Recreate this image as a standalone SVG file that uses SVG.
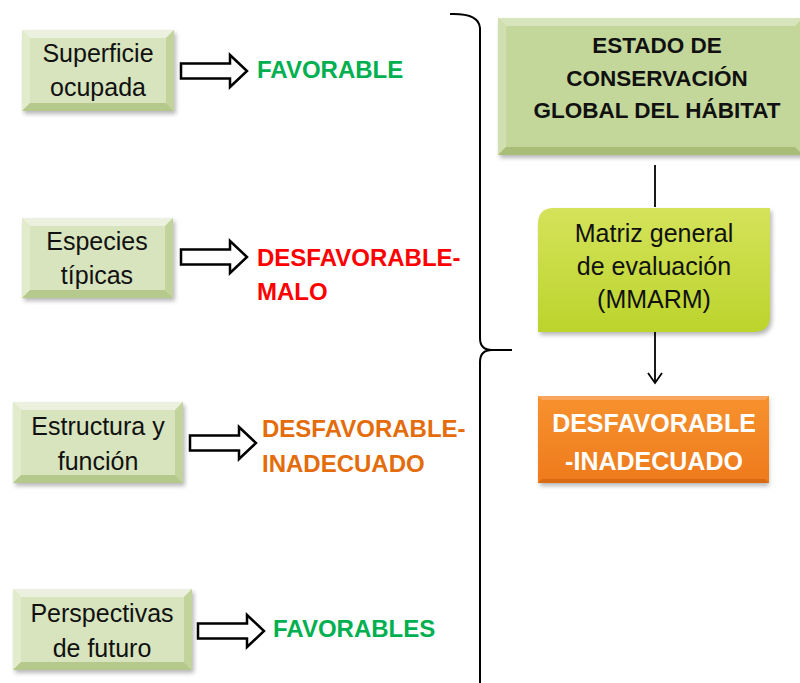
<svg xmlns="http://www.w3.org/2000/svg" width="800" height="683" viewBox="0 0 800 683">
<defs>
<filter id="sh" x="-10%" y="-10%" width="130%" height="140%"><feGaussianBlur stdDeviation="2"/></filter>
<linearGradient id="gMat" x1="0" y1="0" x2="0" y2="1"><stop offset="0" stop-color="#d4e35a"/><stop offset="1" stop-color="#bcd42c"/></linearGradient>
<linearGradient id="gOr" x1="0" y1="0" x2="0" y2="1"><stop offset="0" stop-color="#f7922e"/><stop offset="1" stop-color="#ee7a1c"/></linearGradient>
<path id="blk" d="M0,-7.5 H49 V-16 L66,0 L49,16 V7.5 H0 Z"/>
<marker id="ah" markerWidth="16" markerHeight="16" refX="14" refY="8" orient="auto" markerUnits="userSpaceOnUse" viewBox="0 0 16 16"><path d="M4,1 L14,8 L4,15" fill="none" stroke="#000" stroke-width="1.8"/></marker>
</defs>
<style>
.sh{fill:#7f7f7f;opacity:.55;filter:url(#sh)}
.lg{fill:#d7e4bd}
.lt{fill:#ebf1de}
.ll{fill:#e2ebcb}
.lr{fill:#c2d49c}
.lb{fill:#b6c98c}
.dg{fill:#c4d79b}
.dt{fill:#d8e4bc}
.dl{fill:#d1dfb0}
.dr{fill:#b3c684}
.db{fill:#a9bd79}
.t{font-family:"Liberation Sans",Arial,sans-serif;font-size:25px;fill:#111;text-anchor:middle}
.b{font-family:"Liberation Sans",Arial,sans-serif;font-weight:bold;font-size:24px}
.bw{fill:#fff;text-anchor:middle;font-size:25px}
.bk{fill:#111;text-anchor:middle;font-size:22.5px}
.gr{fill:#00b050}.rd{fill:#ff0000}.or{fill:#e46c0a}
.ba{fill:#fff;stroke:#000;stroke-width:2.5;stroke-linejoin:miter}
.ln{fill:none;stroke:#000;stroke-width:2}
</style>

<g id="n1">
<rect class="sh" x="24" y="33" width="152" height="81"/>
<rect class="lg" x="22" y="30" width="152" height="81"/>
<polygon class="lt" points="22,30 174,30 166,38 30,38"/>
<polygon class="ll" points="22,30 30,38 30,103 22,111"/>
<polygon class="lr" points="174,30 174,111 166,103 166,38"/>
<polygon class="lb" points="22,111 174,111 166,103 30,103"/>
<text class="t" x="98" y="62">Superficie</text>
<text class="t" x="98" y="96">ocupada</text>
</g>
<g id="n2">
<rect class="sh" x="24" y="221" width="151" height="80"/>
<rect class="lg" x="22" y="218" width="151" height="80"/>
<polygon class="lt" points="22,218 173,218 165,226 30,226"/>
<polygon class="ll" points="22,218 30,226 30,290 22,298"/>
<polygon class="lr" points="173,218 173,298 165,290 165,226"/>
<polygon class="lb" points="22,298 173,298 165,290 30,290"/>
<text class="t" x="97" y="250">Especies</text>
<text class="t" x="97" y="284">típicas</text>
</g>
<g id="n3">
<rect class="sh" x="15" y="405" width="170" height="81"/>
<rect class="lg" x="13" y="402" width="170" height="81"/>
<polygon class="lt" points="13,402 183,402 175,410 21,410"/>
<polygon class="ll" points="13,402 21,410 21,475 13,483"/>
<polygon class="lr" points="183,402 183,483 175,475 175,410"/>
<polygon class="lb" points="13,483 183,483 175,475 21,475"/>
<text class="t" x="98" y="435">Estructura y</text>
<text class="t" x="98" y="470">función</text>
</g>
<g id="n4">
<rect class="sh" x="15" y="592" width="179" height="81"/>
<rect class="lg" x="13" y="589" width="179" height="81"/>
<polygon class="lt" points="13,589 192,589 184,597 21,597"/>
<polygon class="ll" points="13,589 21,597 21,662 13,670"/>
<polygon class="lr" points="192,589 192,670 184,662 184,597"/>
<polygon class="lb" points="13,670 192,670 184,662 21,662"/>
<text class="t" x="102" y="622">Perspectivas</text>
<text class="t" x="102" y="657">de futuro</text>
</g>

<g id="r1"><text class="b gr" x="257" y="78">FAVORABLE</text></g>
<g id="r2"><text class="b rd" x="257" y="266">DESFAVORABLE-</text><text class="b rd" x="257" y="300">MALO</text></g>
<g id="r3"><text class="b or" x="262" y="437">DESFAVORABLE-</text><text class="b or" x="262" y="472">INADECUADO</text></g>
<g id="r4"><text class="b gr" x="273" y="637">FAVORABLES</text></g>

<g id="top">
<rect class="sh" x="500" y="21" width="305" height="137"/>
<rect class="dg" x="498" y="18" width="305" height="137"/>
<polygon class="dt" points="498,18 803,18 795,26 506,26"/>
<polygon class="dl" points="498,18 506,26 506,147 498,155"/>
<polygon class="db" points="498,155 803,155 795,147 506,147"/>
<text class="b bk" x="657" y="53">ESTADO DE</text>
<text class="b bk" x="657" y="86">CONSERVACIÓN</text>
<text class="b bk" x="657" y="118">GLOBAL DEL HÁBITAT</text>
</g>
<g id="mat">
<path class="sh" d="M556,211 H772 V319 Q772,335 756,335 H540 V227 Q540,211 556,211 Z"/>
<path fill="url(#gMat)" d="M554,208 H770 V316 Q770,332 754,332 H538 V224 Q538,208 554,208 Z"/>
<text class="t" x="654" y="242">Matriz general</text>
<text class="t" x="654" y="275">de evaluación</text>
<text class="t" x="654" y="308">(MMARM)</text>
</g>
<g id="res">
<rect class="sh" x="540" y="399" width="229" height="87"/>
<rect fill="url(#gOr)" x="538" y="396" width="231" height="87"/>
<polygon fill="#f9a55c" points="538,396 769,396 765,400 542,400"/>
<polygon fill="#d96a12" points="538,483 769,483 765,479 542,479"/>
<text class="b bw" x="654" y="432">DESFAVORABLE</text>
<text class="b bw" x="654" y="470">-INADECUADO</text>
</g>

<g id="connectors">
<use href="#blk" class="ba" transform="translate(181,71)"/>
<use href="#blk" class="ba" transform="translate(181,257)"/>
<use href="#blk" class="ba" transform="translate(190,443)"/>
<use href="#blk" class="ba" transform="translate(198,631)"/>
<path class="ln" d="M450,14 Q479,13 480,28 L480,338 Q480,350 492,350 L512,350 M492,350 Q480,350 480,362 L480,690"/>
<line x1="655" y1="165" x2="655" y2="207" stroke="#000" stroke-width="1.8"/>
<line x1="655" y1="332" x2="655" y2="383" stroke="#000" stroke-width="1.8" marker-end="url(#ah)"/>
</g>
</svg>
